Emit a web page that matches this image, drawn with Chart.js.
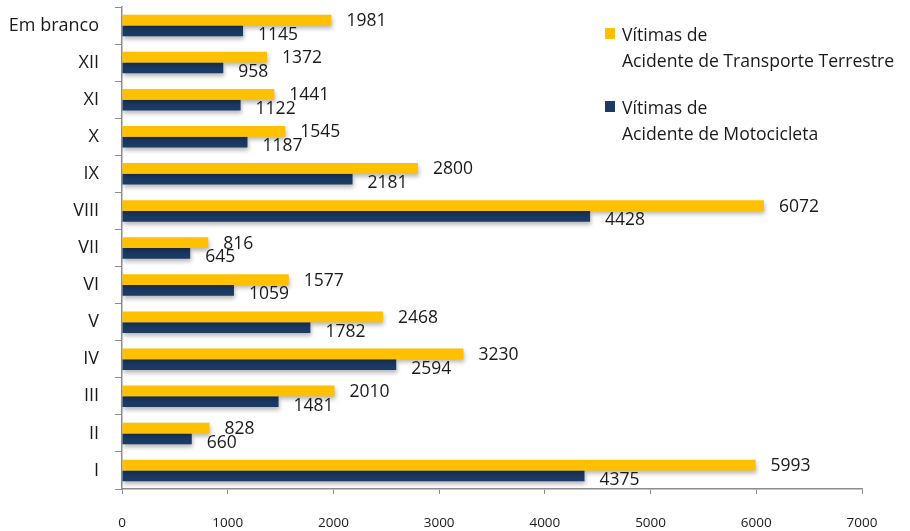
<!DOCTYPE html>
<html>
<head>
<meta charset="utf-8">
<script src="https://cdn.jsdelivr.net/npm/chart.js@4.4.0/dist/chart.umd.min.js"></script>
<style>
  html, body { margin: 0; padding: 0; background: #fff; }
  #wrap { position: relative; width: 910px; height: 531px; }
  #legend { position: absolute; left: 605px; top: 21px; font-family: "Open Sans", sans-serif; font-size: 17.6px; color: #1a1a1a; line-height: 26px; white-space: nowrap; }
  .item { position: relative; padding-left: 17px; margin-bottom: 21px; }
  .box { position: absolute; left: 0; top: 7px; width: 10px; height: 11px; }
</style>
</head>
<body>
<div id="wrap">
  <canvas id="chart" width="910" height="531"></canvas>
  <div id="legend">
    <div class="item"><span class="box" style="background:#FFC000"></span>Vítimas de<br>Acidente de Transporte Terrestre</div>
    <div class="item"><span class="box" style="background:#1B3A64"></span>Vítimas de<br>Acidente de Motocicleta</div>
  </div>
</div>
<script>
var labels = ['Em branco', 'XII', 'XI', 'X', 'IX', 'VIII', 'VII', 'VI', 'V', 'IV', 'III', 'II', 'I'];
var transporte = [1981, 1372, 1441, 1545, 2800, 6072, 816, 1577, 2468, 3230, 2010, 828, 5993];
var moto = [1145, 958, 1122, 1187, 2181, 4428, 645, 1059, 1782, 2594, 1481, 660, 4375];
var xTicks = [0, 1000, 2000, 3000, 4000, 5000, 6000, 7000];

// soft drop shadow under the bars
var barShadow = {
    id: 'barShadow',
    beforeDatasetsDraw: function (chart) {
        var c = chart.ctx;
        c.save();
        c.shadowColor = 'rgba(0,0,0,0.28)';
        c.shadowBlur = 4;
        c.shadowOffsetX = 1;
        c.shadowOffsetY = 3;
    },
    afterDatasetsDraw: function (chart) {
        chart.ctx.restore();
    }
};

// value labels at the end of each bar
var barLabels = {
    id: 'barLabels',
    afterDatasetsDraw: function (chart) {
        var c = chart.ctx;
        c.save();
        c.font = '17.5px "Open Sans", sans-serif';
        c.fillStyle = '#1a1a1a';
        c.textBaseline = 'middle';
        chart.data.datasets.forEach(function (ds, i) {
            chart.getDatasetMeta(i).data.forEach(function (bar, j) {
                var dy = i === 0 ? 1 : 4;
                c.fillText(ds.data[j], bar.x + 15, bar.y + dy);
            });
        });
        c.restore();
    }
};

var ctx = document.querySelector('#chart').getContext('2d');
var chart = new Chart(ctx, {
    type: 'bar',
    data: {
        labels: labels,
        datasets: [{
            label: 'Vítimas de Acidente de Transporte Terrestre',
            data: transporte,
            backgroundColor: '#FFC000',
            barPercentage: 1,
            categoryPercentage: 0.58
        }, {
            label: 'Vítimas de Acidente de Motocicleta',
            data: moto,
            backgroundColor: '#1B3A64',
            barPercentage: 1,
            categoryPercentage: 0.58
        }]
    },
    options: {
        indexAxis: 'y',
        responsive: false,
        animation: false,
        layout: { padding: { top: 7, right: 48, left: 0, bottom: 0 } },
        scales: {
            x: {
                min: 0,
                max: 7000,
                afterBuildTicks: function (axis) {
                    axis.ticks = xTicks.map(function (v) { return { value: v }; });
                },
                afterFit: function (axis) { axis.height = 42; },
                grid: { drawOnChartArea: false, tickLength: 5, color: '#8c8c8c' },
                border: { color: '#8c8c8c', width: 1.5 },
                ticks: {
                    padding: 21,
                    color: '#1a1a1a',
                    callback: function (v) { return String(v); },
                    font: { family: '"Open Sans", sans-serif', size: 13.5 }
                }
            },
            y: {
                afterFit: function (axis) {
                    axis.width = 122;
                    axis.paddingTop = 0;
                    axis.paddingBottom = 0;
                },
                grid: { drawOnChartArea: false, tickLength: 7, color: '#8c8c8c' },
                border: { color: '#8c8c8c', width: 1.5 },
                ticks: {
                    padding: 16,
                    color: '#1a1a1a',
                    font: { family: '"Open Sans", sans-serif', size: 18 }
                }
            }
        },
        plugins: {
            legend: { display: false },
            tooltip: { enabled: false }
        }
    },
    plugins: [barShadow, barLabels]
});
</script>
</body>
</html>
